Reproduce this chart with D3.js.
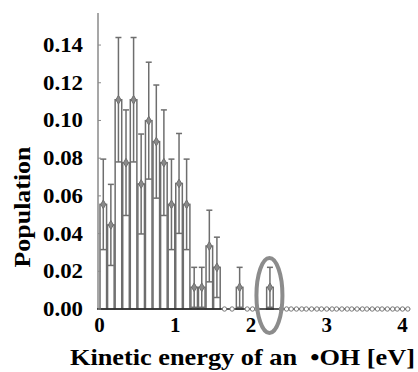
<!DOCTYPE html>
<html>
<head>
<meta charset="utf-8">
<script src="https://cdn.jsdelivr.net/npm/d3@7"></script>
<style>
  html, body { margin: 0; padding: 0; background: #fff; }
  svg { display: block; }
  text { font-family: "Liberation Serif", "Times New Roman", serif; font-weight: bold; fill: #000; }
</style>
</head>
<body>
<svg id="chart" width="418" height="372"></svg>
<script>
// Bin centers (eV), 0.1 eV bins
const binCenters = [0.05, 0.15, 0.25, 0.35, 0.45, 0.55, 0.65, 0.75, 0.85, 0.95, 1.05, 1.15, 1.25, 1.35, 1.45, 1.55, 1.85, 2.25];
const populations = [0.0555, 0.0446, 0.111, 0.0776, 0.111, 0.0663, 0.0999, 0.0888, 0.0776, 0.0555, 0.0666, 0.0555, 0.0115, 0.0115, 0.0334, 0.0221, 0.0115, 0.0115];
const errors = [0.024, 0.0215, 0.033, 0.028, 0.033, 0.0265, 0.031, 0.030, 0.028, 0.024, 0.0265, 0.024, 0.0106, 0.0106, 0.019, 0.016, 0.0106, 0.0106];
// Energies where the population is zero (open circles on the baseline)
const zeroEnergies = [1.65, 1.75, 1.95, 2.02, 2.08, 2.40, 2.47, 2.53, 2.60, 2.67, 2.73, 2.80, 2.87, 2.93, 3.00, 3.07, 3.13, 3.20, 3.27, 3.33, 3.40, 3.47, 3.53, 3.60, 3.67, 3.73, 3.80, 3.87, 3.93, 4.00, 4.07];
const xTicks = [0, 1, 2, 3, 4];
const yTicks = [0.00, 0.02, 0.04, 0.06, 0.08, 0.10, 0.12, 0.14];
const binWidth = 0.1;
const highlightEnergy = 2.25;
const xTitle = "Kinetic energy of an  \u2022OH [eV]";
const yTitle = "Population";

const svg = d3.select("#chart");
const x = d3.scaleLinear().domain([0, 4]).range([99.5, 402.5]);
const y = d3.scaleLinear().domain([0, 0.157]).range([309, 13]);

const gray = "#6e6e6e";

// Bars
svg.append("g").selectAll("rect").data(binCenters).join("rect")
  .attr("x", (d) => x(d - binWidth / 2) + 0.5)
  .attr("width", (d) => x(d + binWidth / 2) - x(d - binWidth / 2) - 1)
  .attr("y", (d, i) => y(populations[i]))
  .attr("height", (d, i) => y(0) - y(populations[i]))
  .attr("fill", "#fff")
  .attr("stroke", gray)
  .attr("stroke-width", 1.5);

// Error bars
const eb = svg.append("g").attr("stroke", gray).attr("stroke-width", 1.5);
binCenters.forEach((d, i) => {
  const cx = x(d);
  const top = y(populations[i] + errors[i]);
  const bot = y(Math.max(0, populations[i] - errors[i]));
  eb.append("line").attr("x1", cx).attr("x2", cx).attr("y1", top).attr("y2", bot);
  eb.append("line").attr("x1", cx - 3).attr("x2", cx + 3).attr("y1", top).attr("y2", top);
  eb.append("line").attr("x1", cx - 3).attr("x2", cx + 3).attr("y1", bot).attr("y2", bot);
});

// Markers
svg.append("g").selectAll("path").data(binCenters).join("path")
  .attr("d", d3.symbol(d3.symbolDiamond, 22))
  .attr("transform", (d, i) => `translate(${x(d)},${y(populations[i])})`)
  .attr("fill", "#8a8a8a")
  .attr("stroke", gray)
  .attr("stroke-width", 1);

// Axes lines
svg.append("line").attr("x1", 98).attr("x2", 98).attr("y1", y.range()[1]).attr("y2", y(0))
  .attr("stroke", "#8a8a8a").attr("stroke-width", 1.5);
svg.append("line").attr("x1", 97).attr("x2", x(4.1)).attr("y1", y(0)).attr("y2", y(0))
  .attr("stroke", "#222").attr("stroke-width", 1.5);

// Zero markers
svg.append("g").selectAll("circle").data(zeroEnergies).join("circle")
  .attr("cx", (d) => x(d)).attr("cy", y(0)).attr("r", 2.2)
  .attr("fill", "#fff").attr("stroke", "#777").attr("stroke-width", 1);

// Y ticks (inward)
svg.append("g").selectAll("line").data(yTicks).join("line")
  .attr("x1", 98).attr("x2", 101).attr("y1", (d) => y(d)).attr("y2", (d) => y(d))
  .attr("stroke", "#8a8a8a").attr("stroke-width", 1);

// Y tick labels
svg.append("g").selectAll("text").data(yTicks).join("text")
  .attr("x", 83).attr("y", (d) => y(d)).attr("dy", "0.35em")
  .attr("text-anchor", "end").attr("font-size", 20)
  .attr("textLength", 40).attr("lengthAdjust", "spacingAndGlyphs")
  .text((d) => d.toFixed(2));

// X tick labels
svg.append("g").selectAll("text").data(xTicks).join("text")
  .attr("x", (d) => x(d)).attr("y", 325).attr("dy", "0.35em")
  .attr("text-anchor", "middle").attr("font-size", 21)
  .text((d) => d);

// Highlight ellipse
svg.append("ellipse")
  .attr("cx", x(highlightEnergy) - 0.5).attr("cy", 295.5)
  .attr("rx", 13).attr("ry", 37.5)
  .attr("fill", "none").attr("stroke", "#8c8c8c").attr("stroke-width", 4);

// Titles
svg.append("text").attr("x", 242.5).attr("y", 357).attr("dy", "0.35em")
  .attr("text-anchor", "middle").attr("font-size", 24)
  .attr("textLength", 345).attr("lengthAdjust", "spacingAndGlyphs")
  .style("white-space", "pre")
  .text(xTitle);
svg.append("text").attr("transform", "translate(22,207) rotate(-90)").attr("dy", "0.35em")
  .attr("text-anchor", "middle").attr("font-size", 24)
  .attr("textLength", 121).attr("lengthAdjust", "spacingAndGlyphs")
  .text(yTitle);
</script>
</body>
</html>
